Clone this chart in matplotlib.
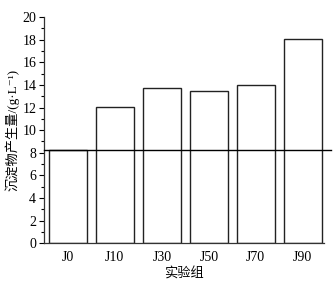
import matplotlib
matplotlib.use("Agg")
import matplotlib.pyplot as plt
from matplotlib.ticker import MultipleLocator

groups = ["J0", "J10", "J30", "J50", "J70", "J90"]
values = [8.2, 12.05, 13.7, 13.45, 14.0, 18.03]
ref_level = 8.2

plt.rcParams['font.family'] = ['Liberation Serif', 'Noto Sans CJK SC', 'DejaVu Serif']

fig = plt.figure(figsize=(3.35, 2.86), dpi=100)
ax = fig.add_axes([0.131, 0.150, 0.836, 0.790])

x = list(range(len(groups)))
ax.bar(x, values, width=0.8, facecolor='white', edgecolor='#222222', linewidth=1.0)
ax.plot([-0.5, 5.6], [ref_level, ref_level], color='black', linewidth=1.0, clip_on=False, zorder=3)

ax.set_xlim(-0.51, 5.45)
ax.set_ylim(0, 20)
ax.yaxis.set_major_locator(MultipleLocator(2))
ax.yaxis.set_minor_locator(MultipleLocator(1))
ax.set_xticks(x)
ax.set_xticklabels(groups)
ax.tick_params(axis='x', length=0, labelsize=10, pad=6)
ax.tick_params(axis='y', which='major', length=3.5, width=0.8, labelsize=10, pad=2, direction='out')
ax.tick_params(axis='y', which='minor', length=2, width=0.8, direction='out')

for s in ['top', 'right']:
    ax.spines[s].set_visible(False)
for s in ['left', 'bottom']:
    ax.spines[s].set_color('#333333')
    ax.spines[s].set_linewidth(0.9)

lab_fam = ['Liberation Serif', 'Noto Sans CJK SC', 'DejaVu Serif']
ax.set_ylabel("沉淀物产生量/(g·L\u207b\u00b9)", fontsize=9.5, family=lab_fam, labelpad=2)
ax.set_xlabel("实验组", fontsize=9.5, family=lab_fam, labelpad=2)

fig.savefig("out.png", dpi=100, facecolor='white')
